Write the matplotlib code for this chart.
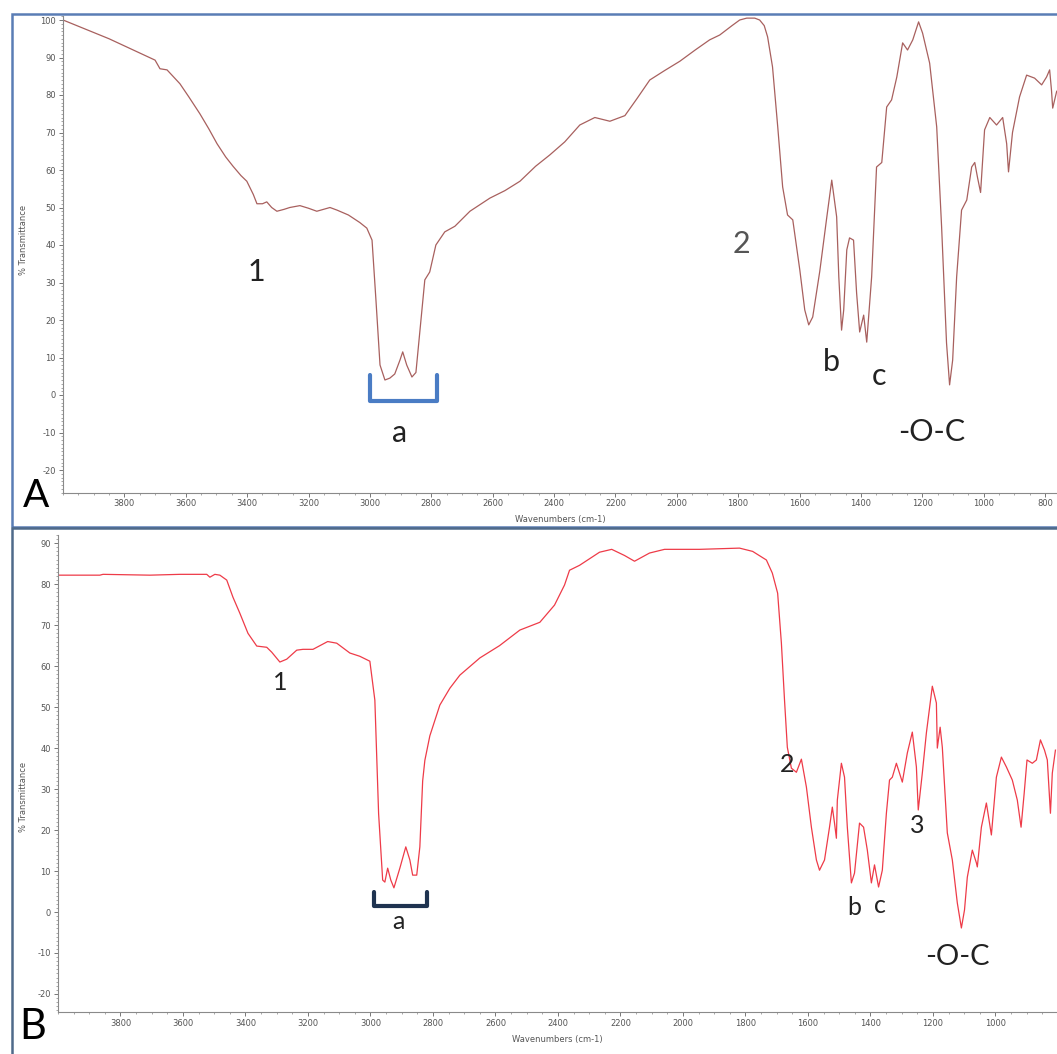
import numpy as np
import matplotlib.pyplot as plt
from matplotlib.patches import Rectangle
from matplotlib.ticker import MultipleLocator

plt.rcParams['axes.unicode_minus'] = False

# ---- spectrum A (wavenumber, %T)
wn_a = [4000, 3850, 3700, 3684, 3661, 3619, 3590, 3554, 3525, 3498, 3470, 3446,
        3420, 3401, 3380, 3368, 3350, 3336, 3320, 3303, 3280, 3261, 3228, 3200,
        3173, 3130, 3107, 3070, 3033, 3010, 2993, 2980, 2967, 2951, 2935,
        2919, 2902, 2893, 2880, 2863, 2850, 2837, 2821, 2805, 2785, 2756, 2723,
        2674, 2609, 2560, 2511, 2460, 2414, 2365, 2316, 2267, 2218, 2169, 2130,
        2088, 2040, 1990, 1940, 1893, 1860, 1820, 1795, 1772, 1746, 1730, 1715,
        1704, 1688, 1671, 1655, 1639, 1622, 1599, 1583, 1570, 1557, 1534, 1511,
        1495, 1479, 1472, 1463, 1456, 1446, 1437, 1424, 1414, 1404, 1391, 1381,
        1365, 1349, 1332, 1316, 1300, 1283, 1264, 1248, 1231, 1212, 1199, 1176,
        1153, 1137, 1121, 1111, 1101, 1088, 1072, 1055, 1039, 1029, 1020, 1010,
        997, 980, 958, 938, 925, 919, 906, 883, 860, 834, 811, 795, 785, 779,
        775, 762]
t_a = [100, 95, 89.3, 87, 86.7, 83, 79.5, 75, 71, 67, 63.5, 61,
       58.5, 57, 53.5, 51, 51, 51.5, 50, 49, 49.5, 50, 50.5, 49.8,
       49, 50, 49.3, 48, 46, 44.5, 41.3, 25, 8, 4, 4.5,
       5.6, 9.3, 11.5, 8, 4.8, 6, 17, 30.7, 32.8, 40, 43.5, 45,
       49, 52.5, 54.5, 57, 61, 64, 67.5, 72, 74, 73, 74.5, 79,
       84, 86.5, 89, 92, 94.7, 96, 98.5, 100, 100.5, 100.5, 100, 98.5,
       95.5, 87.5, 71.5, 55.5, 48, 46.7, 33.3, 22.7, 18.7, 20.8, 33, 47.5,
       57.3, 47.5, 31.5, 17.3, 22.7, 38.7, 41.9, 41.3, 27.2, 16.8, 21.3, 14.1,
       31.5, 60.8, 62, 76.8, 78.7, 84.8, 93.9, 92, 94.7, 99.5, 96.5, 88.5,
       71.5, 44.8, 13.9, 2.7, 9.3, 31.5, 49.3, 52, 60.8, 62, 58, 54,
       70.7, 74, 72, 74, 67, 59.5, 70, 79.5, 85.3, 84.5, 82.7, 84.8, 86.7, 81.3,
       76.5, 81]

# ---- spectrum B
wn_b = [4000, 3866, 3856, 3706, 3610, 3524, 3514, 3498, 3482, 3460, 3440, 3418,
        3392, 3364, 3332, 3316, 3290, 3268, 3236, 3216, 3184, 3137, 3108, 3066,
        3034, 3002, 2986, 2974, 2961, 2954, 2945, 2935, 2925, 2906, 2887, 2874,
        2865, 2852, 2842, 2833, 2826, 2810, 2778, 2746, 2714, 2650, 2587, 2522,
        2458, 2411, 2379, 2363, 2331, 2267, 2228, 2187, 2155, 2107, 2059, 1947,
        1819, 1777, 1733, 1714, 1697, 1685, 1675, 1666, 1653, 1637, 1621, 1605,
        1589, 1573, 1563, 1547, 1531, 1522, 1515, 1509, 1506, 1493, 1483, 1474,
        1461, 1451, 1435, 1422, 1410, 1397, 1387, 1374, 1362, 1349, 1339, 1330,
        1317, 1307, 1298, 1282, 1266, 1253, 1247, 1234, 1221, 1202, 1189, 1186,
        1177, 1170, 1154, 1138, 1122, 1109, 1099, 1090, 1074, 1061, 1058, 1045,
        1029, 1013, 997, 981, 965, 946, 930, 918, 908, 899, 882, 869, 856, 843,
        834, 824, 818, 808]
t_b = [82.2, 82.2, 82.4, 82.2, 82.4, 82.4, 81.7, 82.4, 82.2, 81, 76.8, 72.9,
       68, 64.9, 64.6, 63.4, 61, 61.7, 63.9, 64.1, 64.1, 66, 65.6, 63.2,
       62.4, 61.2, 51.7, 24, 7.8, 7.3, 10.7, 7.8, 5.9, 10.7, 15.9, 12.7,
       9, 9, 15.9, 32, 37, 43, 50.5, 54.6, 57.8, 62, 65, 68.8,
       70.7, 74.9, 79.8, 83.4, 84.6, 87.8, 88.5, 87, 85.6, 87.6, 88.5, 88.5,
       88.8, 88, 85.9, 82.7, 77.8, 65.6, 51.7, 40.2, 35.1, 34.1, 37.3, 30.5,
       20.7, 12.7, 10.2, 12.7, 20.7, 25.6, 21.7, 18, 27.3, 36.3, 32.9, 20.7,
       7.1, 9.5, 21.7, 20.7, 15.1, 7.1, 11.5, 6.1, 10.2, 24.1, 32.2, 32.9,
       36.3, 33.9, 31.7, 38.8, 43.9, 35.4, 24.9, 33.9, 43.7, 55.1, 51, 40,
       45.1, 40.2, 19.3, 12.7, 2.2, -3.9, 0.5, 8.5, 15.1, 12, 11, 20.7,
       26.6, 18.8, 32.9, 37.8, 35.4, 32.2, 27.3, 20.7, 29, 37.1, 36.3, 37.1, 42, 39.5,
       37.1, 24.1, 33.9, 39.5]

W, H = 1057, 1054
fig = plt.figure(figsize=(W / 100, H / 100), dpi=100)
fig.patch.set_facecolor('white')

lab_font = 'Lato'


def style_axis(ax, ymin, ymax, xmax, ylab_xy):
    ax.set_xlim(4000, xmax)
    ax.set_ylim(ymin, ymax)
    for s in ['top', 'right']:
        ax.spines[s].set_visible(False)
    for s in ['left', 'bottom']:
        ax.spines[s].set_color('#8a8a8a')
        ax.spines[s].set_linewidth(0.8)
    ax.xaxis.set_major_locator(MultipleLocator(200))
    ax.xaxis.set_minor_locator(MultipleLocator(50))
    ax.yaxis.set_major_locator(MultipleLocator(10))
    ax.yaxis.set_minor_locator(MultipleLocator(1))
    ax.tick_params(which='major', length=3, width=0.7, color='#777777',
                   labelsize=6, labelcolor='#555555', pad=2)
    ax.tick_params(which='minor', length=1.5, width=0.6, color='#999999')
    ax.set_yticks(np.arange(-20, ymax, 10))
    ax.set_xticks(np.arange(3800, xmax - 1, -200))
    ax.set_xlabel('Wavenumbers (cm-1)', fontsize=6, color='#555555', labelpad=5)
    ax.set_ylabel('% Transmittance', fontsize=6, color='#555555')
    ax.yaxis.set_label_coords(*ylab_xy)


# ---- panel A
axA = fig.add_axes([63 / W, 1 - 492.5 / H, 1 - 63 / W, 476.25 / H])
axA.plot(wn_a, t_a, color='#a8605e', lw=0.9)
style_axis(axA, -26, 101, 761, (-0.035, 0.53))
kw = dict(fontsize=22, family=lab_font, ha='center', va='center', color='#222222')
axA.text(3371, 32.8, '1', **kw)
axA.text(1788, 40.3, '2', color='#555555', fontsize=22, family=lab_font, ha='center', va='center')
axA.text(2902, -10.1, 'a', **kw)
axA.text(1495, 8.8, 'b', **kw)
axA.text(1342, 5.1, 'c', **kw)
axA.text(1169, -9.9, '-O-C', **kw)
axA.text(4088, -27, 'A', fontsize=28, family=lab_font, ha='center', va='center',
         color='black', clip_on=False)
axA.plot([3000, 3000, 2782, 2782], [5.3, -1.6, -1.6, 5.3], color='#4a7cc4', lw=3,
         solid_capstyle='round', solid_joinstyle='round')

# ---- panel B
axB = fig.add_axes([58 / W, 1 - 1012 / H, 1 - 58 / W, 477 / H])
axB.plot(wn_b, t_b, color='#ee3b48', lw=0.9)
style_axis(axB, -24.4, 92, 803, (-0.030, 0.45))
kwb = dict(fontsize=18, family=lab_font, ha='center', va='center', color='#222222')
axB.text(3290, 55.9, '1', **kwb)
axB.text(1666, 35.9, '2', **kwb)
axB.text(2910, -2.4, 'a', **kwb)
axB.text(1451, 1.2, 'b', **kwb)
axB.text(1371, 1.7, 'c', **kwb)
axB.text(1250, 21, '3', **kwb)
axB.text(1122, -11, '-O-C', fontsize=21, family=lab_font, ha='center', va='center', color='#222222')
axB.text(4080, -28, 'B', fontsize=30, family=lab_font, ha='center', va='center',
         color='black', clip_on=False)
axB.plot([2990, 2990, 2820, 2820], [4.9, 1.5, 1.5, 4.9], color='#1f3350', lw=3,
         solid_capstyle='round', solid_joinstyle='round')

# ---- frames round the two panels
fig.patches.append(Rectangle((12 / W, 1 - 527 / H), 1.2, 513 / H, transform=fig.transFigure,
                             fill=False, edgecolor='#5a7db5', lw=1.8, figure=fig))
fig.patches.append(Rectangle((12 / W, -0.2), 1.2, 0.2 + 526 / H, transform=fig.transFigure,
                             fill=False, edgecolor='#4f6a8a', lw=1.8, figure=fig))

fig.savefig('out.png', dpi=100)
